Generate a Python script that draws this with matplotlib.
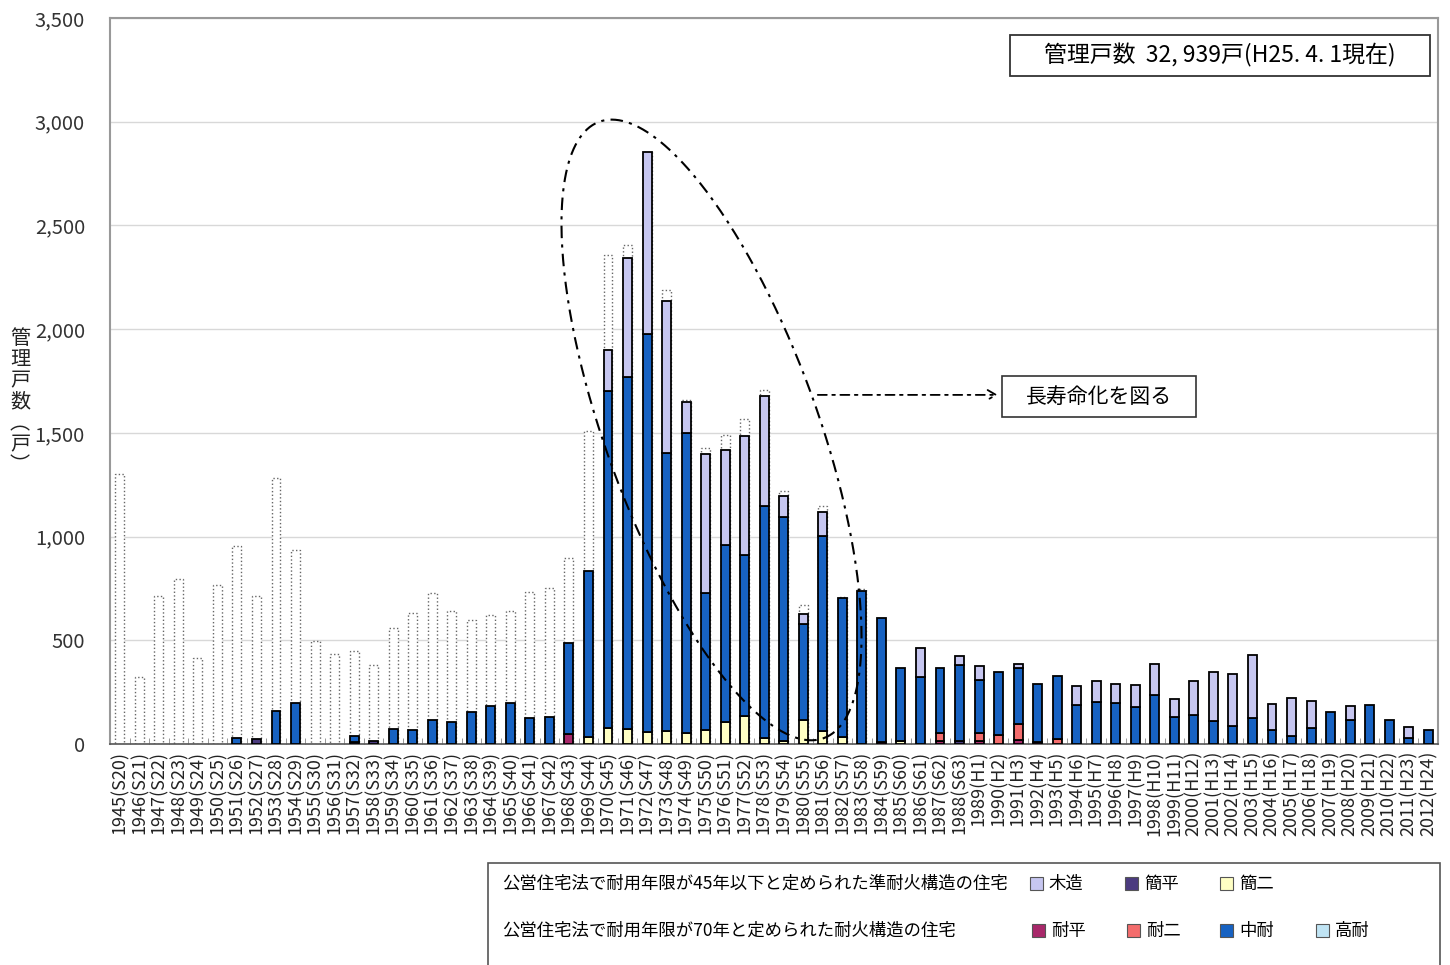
import numpy as np
import matplotlib
matplotlib.use("Agg")
import matplotlib.pyplot as plt
from matplotlib.patches import Rectangle
from matplotlib.ticker import FuncFormatter, FixedLocator

plt.rcParams['font.family'] = ['Noto Sans CJK JP', 'DejaVu Sans']

labels = ["1945(S20)", "1946(S21)", "1947(S22)", "1948(S23)", "1949(S24)", "1950(S25)",
          "1951(S26)", "1952(S27)", "1953(S28)", "1954(S29)", "1955(S30)", "1956(S31)",
          "1957(S32)", "1958(S33)", "1959(S34)", "1960(S35)", "1961(S36)", "1962(S37)",
          "1963(S38)", "1964(S39)", "1965(S40)", "1966(S41)", "1967(S42)", "1968(S43)",
          "1969(S44)", "1970(S45)", "1971(S46)", "1972(S47)", "1973(S48)", "1974(S49)",
          "1975(S50)", "1976(S51)", "1977(S52)", "1978(S53)", "1979(S54)", "1980(S55)",
          "1981(S56)", "1982(S57)", "1983(S58)", "1984(S59)", "1985(S60)", "1986(S61)",
          "1987(S62)", "1988(S63)", "1989(H1)", "1990(H2)", "1991(H3)", "1992(H4)",
          "1993(H5)", "1994(H6)", "1995(H7)", "1996(H8)", "1997(H9)", "1998(H10)",
          "1999(H11)", "2000(H12)", "2001(H13)", "2002(H14)", "2003(H15)", "2004(H16)",
          "2005(H17)", "2006(H18)", "2007(H19)", "2008(H20)", "2009(H21)", "2010(H22)",
          "2011(H23)", "2012(H24)"]

# total originally built (dotted outline bars)
built = [1302, 325, 715, 796, 415, 767, 955, 715, 1281, 936, 498, 434, 447, 381, 559, 630,
         728, 643, 598, 624, 640, 731, 751, 895, 1511, 2357, 2405, 2853, 2189, 1656, 1426,
         1489, 1565, 1708, 1221, 672, 1145, 710, 745, 0, 0, 0, 0, 0, 0, 0, 0, 0,
         0, 0, 0, 0, 0, 0, 0, 0, 0, 0, 0, 0, 0, 0, 0, 0, 0, 0, 0, 0]

kanpei = [0, 0, 0, 0, 0, 0, 0, 24, 0, 0, 0, 0, 12, 13, 0, 0, 0, 0, 0, 0, 0, 0, 0, 0, 0,
          0, 0, 0, 0, 0, 0, 0, 0, 0, 0, 0, 0, 0, 0, 0, 0, 0, 0, 14, 0, 0, 0, 0, 0, 0, 0,
          0, 0, 0, 0, 0, 0, 0, 0, 0, 0, 0, 0, 0, 0, 0, 0, 0]
taipei = [0, 0, 0, 0, 0, 0, 0, 0, 0, 0, 0, 0, 0, 0, 0, 0, 0, 0, 0, 0, 0, 0, 0, 50, 0,
          0, 0, 0, 0, 0, 0, 0, 0, 0, 0, 0, 0, 0, 0, 12, 0, 0, 14, 0, 14, 0, 19, 10, 0, 0, 0,
          0, 0, 0, 0, 0, 0, 0, 0, 0, 0, 0, 0, 0, 0, 0, 0, 0]
taini = [0, 0, 0, 0, 0, 0, 0, 0, 0, 0, 0, 0, 0, 0, 0, 0, 0, 0, 0, 0, 0, 0, 0, 0, 0,
         0, 0, 0, 0, 0, 0, 0, 0, 0, 0, 0, 0, 0, 0, 0, 0, 0, 37, 0, 37, 43, 79, 0, 22, 0, 0,
         0, 0, 0, 0, 0, 0, 0, 0, 0, 0, 0, 0, 0, 0, 0, 0, 0]
kanni = [0, 0, 0, 0, 0, 0, 0, 0, 0, 0, 0, 0, 0, 0, 0, 0, 0, 0, 0, 0, 0, 0, 0, 0, 34,
         76, 71, 57, 61, 53, 67, 105, 134, 29, 15, 115, 61, 36, 0, 0, 14, 0, 0, 0, 0, 0, 0,
         0, 0, 0, 0, 0, 0, 0, 0, 0, 0, 0, 0, 0, 0, 0, 0, 0, 0, 0, 0, 0]
chutai = [0, 0, 0, 0, 0, 0, 27, 0, 161, 199, 0, 0, 28, 0, 72, 68, 116, 105, 156, 185, 198,
          125, 132, 436, 799, 1626, 1700, 1918, 1342, 1445, 662, 853, 778, 1120, 1077, 463,
          941, 670, 739, 597, 351, 323, 314, 365, 256, 304, 270, 281, 306, 188, 203, 199,
          178, 235, 132, 138, 113, 88, 124, 68, 39, 79, 154, 114, 188, 117, 31, 68]
kotai = [0] * 68
mokuzo = [0, 0, 0, 0, 0, 0, 0, 0, 0, 0, 0, 0, 0, 0, 0, 0, 0, 0, 0, 0, 0, 0, 0, 0, 0,
          197, 571, 878, 732, 153, 668, 458, 575, 530, 105, 50, 118, 0, 0, 0, 0, 138, 0, 45,
          68, 0, 20, 0, 0, 92, 101, 92, 105, 152, 85, 166, 234, 251, 305, 123, 181, 128, 0,
          69, 0, 0, 53, 0]

series = [("簡平", kanpei, "#4b3b7f"), ("耐平", taipei, "#a8286a"), ("耐二", taini, "#f36c6c"),
          ("簡二", kanni, "#ffffc4"), ("中耐", chutai, "#1762c2"), ("高耐", kotai, "#c0e4f4"),
          ("木造", mokuzo, "#c6c6f0")]

W, H = 1450, 965
fig = plt.figure(figsize=(W / 100, H / 100), dpi=100)
ax = fig.add_axes([110 / W, 1 - 744 / H, (1438 - 110) / W, (744 - 18) / H])

n = len(labels)
x = np.arange(n)
bw = 0.46

ax.bar(x, built, width=bw, color="white", edgecolor="#666666", linestyle=":", linewidth=1.0, zorder=2)
bottom = np.zeros(n)
for name, vals, col in series:
    v = np.array(vals, dtype=float)
    mask = v > 0
    ax.bar(x[mask], v[mask], width=bw, bottom=bottom[mask], color=col, edgecolor="black",
           linewidth=1.3, zorder=3)
    bottom += v

ax.set_xlim(-0.5, n - 0.5)
ax.set_ylim(0, 3500)
ax.yaxis.set_major_locator(FixedLocator(np.arange(0, 3501, 500)))
ax.yaxis.set_major_formatter(FuncFormatter(lambda v, p: f"{int(v):,}"))
ax.grid(axis="y", color="#d8d8d8", linewidth=1.0, zorder=0)
ax.set_axisbelow(True)
ax.tick_params(axis="y", length=0, labelsize=14.5, labelcolor="#333333", pad=18)
ax.set_xticks(x)
ax.set_xticklabels(labels, rotation=90, fontsize=13, color="#222222")
ax.tick_params(axis="x", length=0, pad=5)
ax.set_xticks(np.arange(n - 1) + 0.5, minor=True)
ax.tick_params(axis="x", which="minor", direction="in", length=4, color="#888888")
for s in ["left", "top", "right"]:
    ax.spines[s].set_color("#999999")
    ax.spines[s].set_linewidth(1.5)
ax.spines["bottom"].set_color("#555555")
ax.spines["bottom"].set_linewidth(1.2)

# y label (vertical writing)
fig.text(20 / W, 1 - 402 / H, "\n".join(["管", "理", "戸", "数", "︵", "戸", "︶"]),
         fontsize=14.5, ha="center", va="center", linespacing=1.02, color="#222222")

# dash-dot ellipse, defined in pixel offsets around a data-space center
fig.canvas.draw()
bb = ax.get_window_extent()
px_x = bb.width / n
px_y = bb.height / 3500
cx, cy = 30.3, 1514
a_px, b_px, phi = 328 * bb.width / 1328, 106 * bb.width / 1328, np.deg2rad(20)
t = np.linspace(0, 2 * np.pi, 400)
dx = a_px * np.cos(t) * np.sin(phi) + b_px * np.sin(t) * np.cos(phi)
dy = a_px * np.cos(t) * np.cos(phi) - b_px * np.sin(t) * np.sin(phi)
ax.plot(cx + dx / px_x, cy - dy / px_y, color="black", linestyle=(0, (6, 3, 1.5, 3)),
        linewidth=1.5, zorder=5, clip_on=False)

# arrow to the note box
ax.annotate("", xy=(45.1, 1683), xytext=(35.6, 1683),
            arrowprops=dict(arrowstyle="->,head_length=0.6,head_width=0.35", color="black",
                            linestyle=(0, (5, 3, 1.5, 3)), linewidth=1.3), zorder=5)
ax.add_patch(Rectangle((45.2, 1577), 9.9, 197, facecolor="white", edgecolor="#333333",
                       linewidth=1.2, zorder=6))
ax.text(50.15, 1675, "長寿命化を図る", fontsize=15, ha="center", va="center", zorder=7)

# total box
ax.add_patch(Rectangle((45.6, 3221), 21.5, 197, facecolor="white", edgecolor="#333333",
                       linewidth=1.3, zorder=6))
ax.text(56.35, 3318, "管理戸数  32, 939戸(H25. 4. 1現在)", fontsize=16.5, ha="center",
        va="center", zorder=7)

# legend box
lg = fig.add_axes([0, 0, 1, 1], facecolor="none")
lg.set_xlim(0, W)
lg.set_ylim(H, 0)
lg.axis("off")
lg.add_patch(Rectangle((488, 863), 952, 110, facecolor="white", edgecolor="#555555",
                       linewidth=1.2, clip_on=False))
lg.text(502, 884, "公営住宅法で耐用年限が45年以下と定められた準耐火構造の住宅", fontsize=12.5,
        ha="left", va="center")
lg.text(502, 931, "公営住宅法で耐用年限が70年と定められた耐火構造の住宅", fontsize=12.5,
        ha="left", va="center")
cols = {name: col for name, _, col in series}
row1 = [("木造", 1030), ("簡平", 1125), ("簡二", 1220)]
row2 = [("耐平", 1032), ("耐二", 1127), ("中耐", 1220), ("高耐", 1316)]
for items, yy in [(row1, 884), (row2, 931)]:
    for name, xx in items:
        lg.add_patch(Rectangle((xx, yy - 7), 13, 13, facecolor=cols[name], edgecolor="#555555",
                               linewidth=0.8))
        lg.text(xx + 19, yy, name, fontsize=12.5, ha="left", va="center")

fig.savefig("out.png", dpi=100)
